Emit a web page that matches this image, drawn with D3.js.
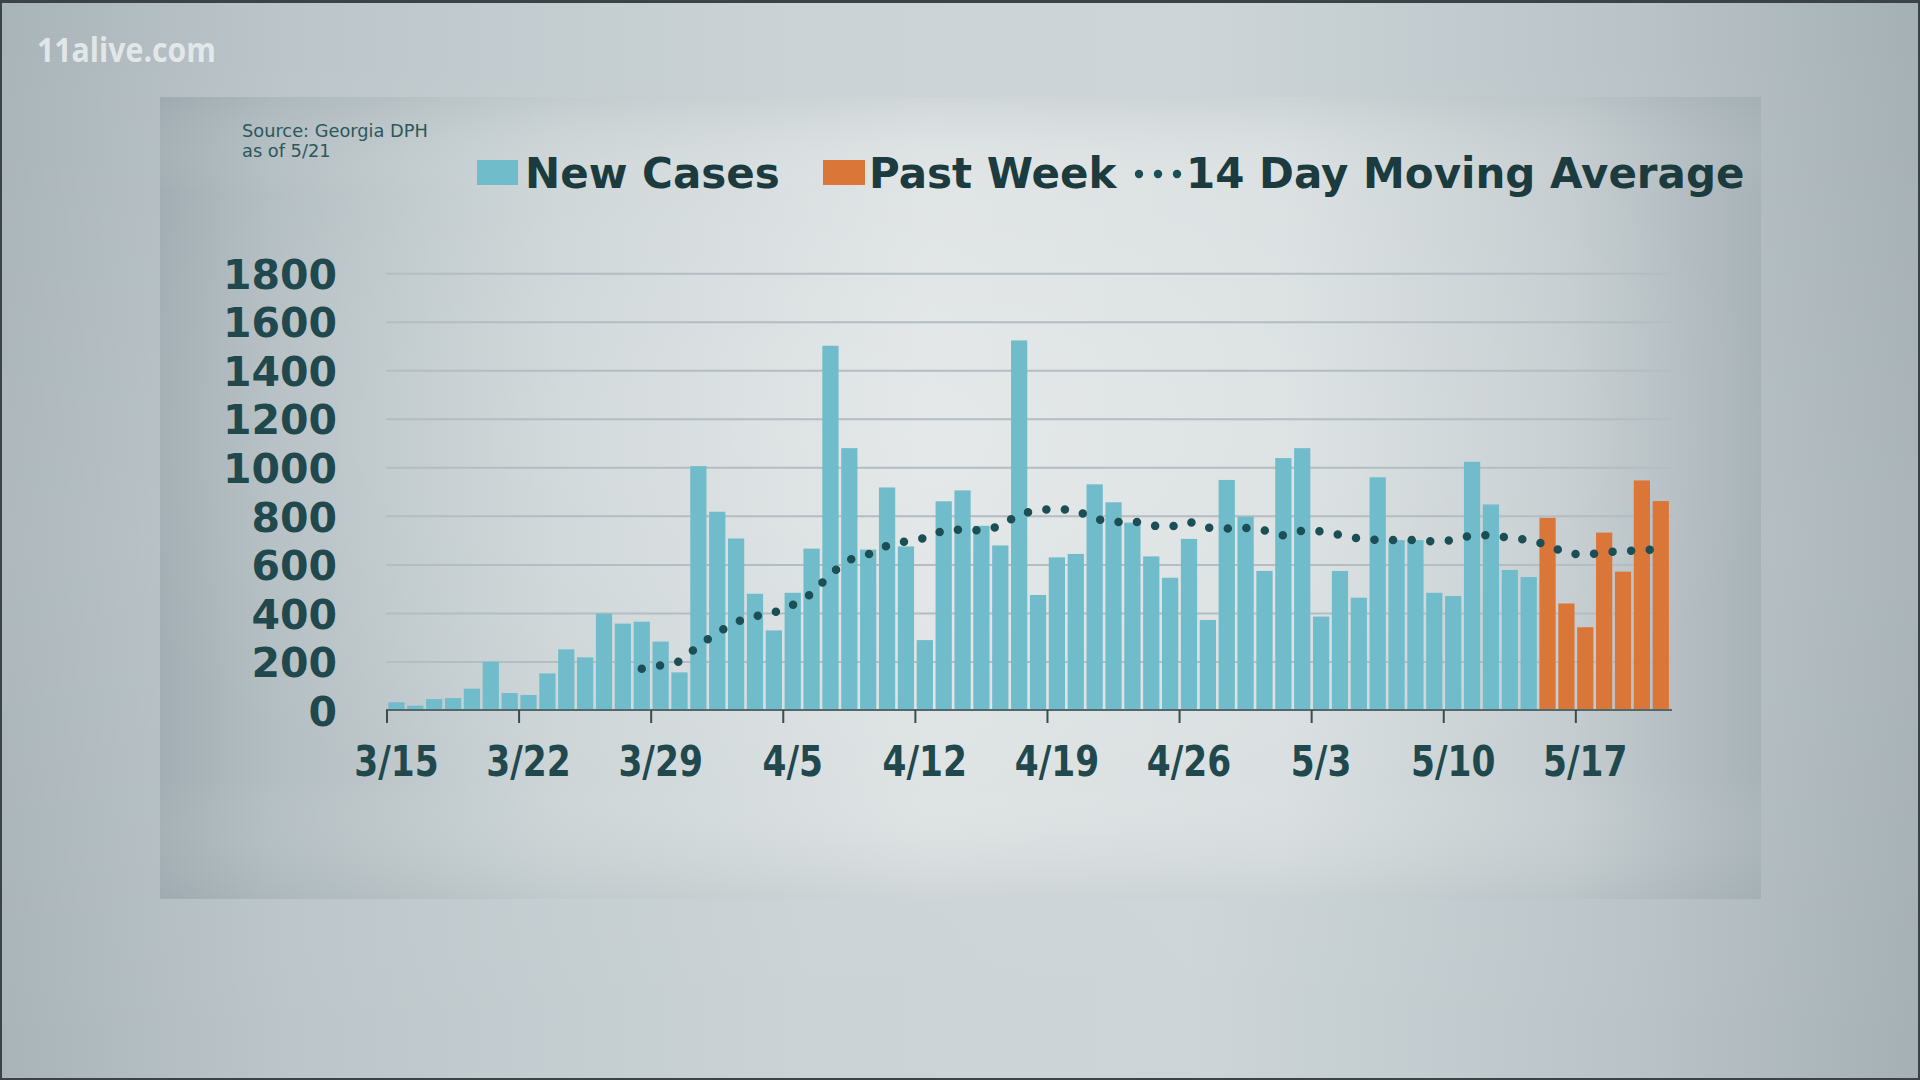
<!DOCTYPE html>
<html><head><meta charset="utf-8">
<script src="https://cdn.jsdelivr.net/npm/d3@7"></script>
<style>html,body{margin:0;padding:0;background:#3b4347;overflow:hidden}svg{display:block}</style>
</head><body>
<svg id="c" width="1920" height="1080"></svg>
<script>
// ---------- data ----------
const dates = ["3/15","3/16","3/17","3/18","3/19","3/20","3/21","3/22","3/23","3/24","3/25","3/26","3/27","3/28","3/29","3/30","3/31",
"4/1","4/2","4/3","4/4","4/5","4/6","4/7","4/8","4/9","4/10","4/11","4/12","4/13","4/14","4/15","4/16","4/17","4/18","4/19","4/20",
"4/21","4/22","4/23","4/24","4/25","4/26","4/27","4/28","4/29","4/30",
"5/1","5/2","5/3","5/4","5/5","5/6","5/7","5/8","5/9","5/10","5/11","5/12","5/13","5/14","5/15","5/16","5/17","5/18","5/19","5/20","5/21"];
// New Cases: 3/15 .. 5/14
const newCases = [32,18,45,49,88,199,70,62,151,250,217,397,356,364,282,155,1005,
817,707,479,328,483,665,1501,1079,661,917,674,288,860,905,759,678,1523,474,629,643,
930,856,772,633,545,705,371,948,797,573,
1038,1079,385,573,463,959,700,700,483,470,1023,847,577,548];
// Past Week: 5/15 .. 5/21
const pastWeek = [792,439,341,731,570,946,861];
// 14 Day Moving Average: 3/28 .. 5/21
const movingAvgStart = "3/28";
const movingAvg = [170,184,200,264,
319,363,386,401,433,479,560,619,641,677,695,708,740,744,739,757,807,823,830,822,788,773,779,760,754,776,751,748,750,740,
720,739,736,722,706,701,701,701,694,700,720,720,709,701,680,645,640,649,655,659,662];
const yTicks = [0,200,400,600,800,1000,1200,1400,1600,1800];
const xTickLabels = ["3/15","3/22","3/29","4/5","4/12","4/19","4/26","5/3","5/10","5/17"];
const legendLabels = ["New Cases","Past Week","14 Day Moving Average"];

// ---------- setup ----------
const W = 1920, H = 1080;
const TEAL = "#70bccb", ORANGE = "#db7639", DOT = "#1c4f55";
const svg = d3.select("#c");
const defs = svg.append("defs");

function lin(id, stops, x2 = 1, y2 = 0) {
  const g = defs.append("linearGradient").attr("id", id).attr("x1", 0).attr("y1", 0).attr("x2", x2).attr("y2", y2);
  stops.forEach(s => g.append("stop").attr("offset", s[0]).attr("stop-color", s[1]).attr("stop-opacity", s[2] == null ? 1 : s[2]));
}
lin("bgH", [[0,"#a9b4b9"],[0.15,"#bcc6ca"],[0.42,"#cbd3d6"],[0.62,"#cdd5d8"],[0.85,"#bac4c8"],[1,"#a5b0b5"]]);
lin("bgV", [[0,"#ffffff",0.0],[0.5,"#ffffff",0.06],[1,"#ffffff",0.0]], 0, 1);
lin("panelH", [[0,"#a2aeb3"],[0.07,"#b3bec2"],[0.25,"#ccd4d6"],[0.48,"#dde2e3"],[0.7,"#d9dfe0"],[0.88,"#c5cdd0"],[1,"#a8b3b8"]]);
lin("panelV", [[0,"#8f9ca1",0.18],[0.12,"#ffffff",0.0],[0.85,"#ffffff",0.0],[1,"#8f9ca1",0.18]], 0, 1);
const rg = defs.append("radialGradient").attr("id","glow").attr("cx",0.47).attr("cy",0.42).attr("r",0.55);
rg.append("stop").attr("offset",0).attr("stop-color","#ffffff").attr("stop-opacity",0.22);
rg.append("stop").attr("offset",1).attr("stop-color","#ffffff").attr("stop-opacity",0);

// frame + background
svg.append("rect").attr("width", W).attr("height", H).attr("fill", "#3b4347");
svg.append("rect").attr("x", 2).attr("y", 3).attr("width", W - 4).attr("height", H - 5).attr("fill", "url(#bgH)");
svg.append("rect").attr("x", 2).attr("y", 3).attr("width", W - 4).attr("height", H - 5).attr("fill", "url(#bgV)");

// panel
const panel = {x: 160, y: 97, w: 1601, h: 802};
svg.append("rect").attr("x", panel.x).attr("y", panel.y).attr("width", panel.w).attr("height", panel.h).attr("fill", "url(#panelH)");
svg.append("rect").attr("x", panel.x).attr("y", panel.y).attr("width", panel.w).attr("height", panel.h).attr("fill", "url(#glow)");
svg.append("rect").attr("x", panel.x).attr("y", panel.y).attr("width", panel.w).attr("height", panel.h).attr("fill", "url(#panelV)");

// logo
svg.append("text").attr("x", 37).attr("y", 62)
  .attr("font-family", "'Open Sans', sans-serif").attr("font-weight", 700).attr("font-size", 34)
  .attr("fill", "#eef1f2").attr("fill-opacity", 0.82)
  .attr("textLength", 179).attr("lengthAdjust", "spacingAndGlyphs")
  .text("11alive.com");

// source
const src = svg.append("text").attr("font-family", "'DejaVu Sans', sans-serif").attr("font-size", 17.8).attr("fill", "#2c575b");
src.append("tspan").attr("x", 242).attr("y", 137).text("Source: Georgia DPH");
src.append("tspan").attr("x", 242).attr("y", 157).text("as of 5/21");

// ---------- scales ----------
const plotL = 386, plotR = 1672;
const x = d3.scaleBand().domain(dates).range([387, 1670.2]).paddingInner(0.14).paddingOuter(0.07);
const y = d3.scaleLinear().domain([0, 1800]).range([710, 273.2]);
const bw = x.bandwidth();
const tickOffset = x.step() * x.paddingInner() / 2;

// gridlines + y labels
const gy = svg.append("g").attr("transform", `translate(${plotL},0)`)
  .call(d3.axisLeft(y).tickValues(yTicks).tickSize(-(plotR - plotL)).tickPadding(49).tickFormat(d3.format("d")));
gy.select(".domain").remove();
gy.selectAll(".tick line").attr("stroke", "#b4bdc1").attr("stroke-width", 2)
  .attr("opacity", d => d === 0 ? 0 : 1);
gy.selectAll(".tick text").attr("font-family", "'DejaVu Sans', sans-serif").attr("font-weight", "bold")
  .attr("font-size", 41).attr("fill", "#21484d").attr("dy", "0.37em");

// bars
const newCaseDates = dates.slice(0, newCases.length);
const pastWeekDates = dates.slice(newCases.length, newCases.length + pastWeek.length);
svg.append("g").selectAll("rect").data(newCases).join("rect")
  .attr("x", (d, i) => x(newCaseDates[i])).attr("y", d => y(d))
  .attr("width", bw).attr("height", d => y(0) - y(d)).attr("fill", TEAL);
svg.append("g").selectAll("rect").data(pastWeek).join("rect")
  .attr("x", (d, i) => x(pastWeekDates[i])).attr("y", d => y(d))
  .attr("width", bw).attr("height", d => y(0) - y(d)).attr("fill", ORANGE);

// baseline + x ticks + labels
svg.append("line").attr("x1", plotL).attr("x2", plotR).attr("y1", y(0)).attr("y2", y(0))
  .attr("stroke", "#52686c").attr("stroke-width", 2);
svg.append("g").selectAll("line").data(xTickLabels).join("line")
  .attr("x1", d => x(d) - tickOffset).attr("x2", d => x(d) - tickOffset)
  .attr("y1", y(0)).attr("y2", y(0) + 13).attr("stroke", "#3b4b4e").attr("stroke-width", 2);
const gx = svg.append("g").attr("transform", `translate(0,${y(0)})`)
  .call(d3.axisBottom(x).tickValues(xTickLabels).tickSize(0).tickPadding(0));
gx.select(".domain").remove();
gx.selectAll(".tick text").attr("y", 66).attr("dy", 0)
  .attr("font-family", "'DejaVu Sans', sans-serif").attr("font-weight", "bold").attr("font-size", 42)
  .attr("fill", "#21484d").attr("transform", "scale(0.82,1)");

// moving average dotted line
const maDates = dates.slice(dates.indexOf(movingAvgStart), dates.indexOf(movingAvgStart) + movingAvg.length);
const line = d3.line().x((d, i) => x(maDates[i]) + bw / 2).y(d => y(d));
svg.append("path").datum(movingAvg).attr("d", line)
  .attr("fill", "none").attr("stroke", DOT).attr("stroke-width", 8.5)
  .attr("stroke-linecap", "round").attr("stroke-dasharray", "0 18.6");

// legend
const lg = svg.append("g").attr("font-family", "'DejaVu Sans', sans-serif").attr("font-weight", "bold")
  .attr("font-size", 42).attr("fill", "#1b3b3e");
lg.append("rect").attr("x", 477).attr("y", 160).attr("width", 41).attr("height", 25).attr("fill", TEAL);
lg.append("text").attr("x", 525).attr("y", 188).text(legendLabels[0]);
lg.append("rect").attr("x", 823).attr("y", 160).attr("width", 42).attr("height", 25).attr("fill", ORANGE);
lg.append("text").attr("x", 869).attr("y", 188).text(legendLabels[1]);
lg.selectAll("circle").data([1139, 1158, 1177]).join("circle")
  .attr("cx", d => d).attr("cy", 174).attr("r", 4.2).attr("fill", DOT);
lg.append("text").attr("x", 1186).attr("y", 188).text(legendLabels[2]);
</script>
</body></html>
